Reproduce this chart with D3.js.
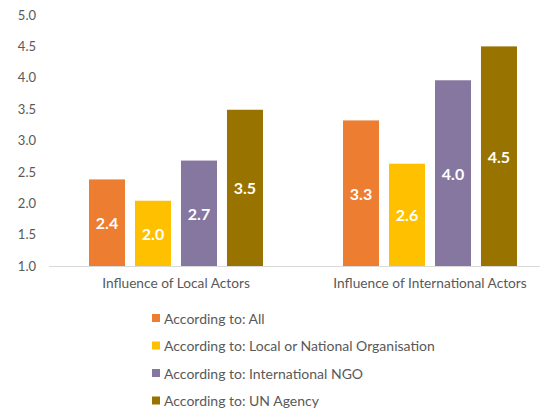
<!DOCTYPE html>
<html>
<head>
<meta charset="utf-8">
<script src="https://cdn.jsdelivr.net/npm/d3@7"></script>
<style>
  body { margin: 0; background: #fff; }
  text { font-family: Lato, "Open Sans", sans-serif; }
</style>
</head>
<body>
<svg width="540" height="409"></svg>
<script>
const svg = d3.select('svg');

// Data
const categories = ['Influence of Local Actors', 'Influence of International Actors'];
const seriesNames = [
  'According to: All',
  'According to: Local or National Organisation',
  'According to: International NGO',
  'According to: UN Agency'
];
const valuesAll   = [2.38, 3.32];
const valuesLocal = [2.04, 2.63];
const valuesINGO  = [2.68, 3.96];
const valuesUN    = [3.49, 4.50];
const yTicks = [1.0, 1.5, 2.0, 2.5, 3.0, 3.5, 4.0, 4.5, 5.0];

const colors = ['#ED7D31', '#FFC000', '#8677A0', '#997300'];
const seriesValues = [valuesAll, valuesLocal, valuesINGO, valuesUN];

const rows = categories.map((c, i) => ({
  category: c,
  values: seriesValues.map((v, s) => ({ series: s, value: v[i] }))
}));

// Layout
const plotTop = 15, plotBottom = 266;
const plotLeft = 49, plotRight = 557;

const xScale = d3.scaleBand()
  .domain(categories)
  .range([plotLeft, plotRight]);

const xInner = d3.scaleBand()
  .domain(d3.range(seriesNames.length))
  .range([0, xScale.bandwidth()])
  .paddingInner(0.217)
  .paddingOuter(0.87);

const yScale = d3.scaleLinear()
  .domain([1, 5])
  .range([plotBottom, plotTop]);

// Y axis labels (no line, no gridlines)
const yAxis = d3.axisLeft(yScale)
  .tickValues(yTicks)
  .tickFormat(d3.format('.1f'))
  .tickSize(0)
  .tickPadding(0);

const yAxisG = svg.append('g')
  .attr('transform', 'translate(36,0)')
  .call(yAxis);
yAxisG.select('.domain').remove();
yAxisG.selectAll('text')
  .attr('fill', '#595959')
  .style('font-size', '13px')
  .style('font-family', 'Lato, "Open Sans", sans-serif');

// Bars
const groups = svg.selectAll('g.cat').data(rows)
  .enter().append('g')
    .attr('class', 'cat')
    .attr('transform', d => `translate(${xScale(d.category)},0)`);

groups.selectAll('rect').data(d => d.values)
  .enter().append('rect')
    .attr('x', d => xInner(d.series))
    .attr('y', d => yScale(d.value))
    .attr('width', xInner.bandwidth())
    .attr('height', d => yScale(1) - yScale(d.value))
    .attr('fill', d => colors[d.series]);

groups.selectAll('text.val').data(d => d.values)
  .enter().append('text')
    .attr('class', 'val')
    .attr('x', d => xInner(d.series) + xInner.bandwidth() / 2)
    .attr('y', d => (yScale(d.value) + yScale(1)) / 2)
    .attr('text-anchor', 'middle')
    .attr('dominant-baseline', 'central')
    .attr('fill', '#fff')
    .style('font-size', '16px')
    .style('font-weight', 'bold')
    .text(d => d3.format('.1f')(d.value));

// X axis baseline and category labels
const xAxis = d3.axisBottom(xScale)
  .tickSize(0)
  .tickPadding(12);

const xAxisG = svg.append('g')
  .attr('transform', `translate(0,${plotBottom})`)
  .call(xAxis);
xAxisG.select('.domain')
  .attr('stroke', '#D9D9D9')
  .attr('stroke-width', 1)
  .attr('d', `M${plotLeft},0.5H${plotRight}`);
xAxisG.selectAll('text')
  .attr('fill', '#595959')
  .style('font-size', '13.7px')
  .style('font-family', 'Lato, "Open Sans", sans-serif');

// Legend
const legend = svg.append('g')
  .attr('transform', 'translate(152,318)');

const items = legend.selectAll('g').data(seriesNames)
  .enter().append('g')
    .attr('transform', (d, i) => `translate(0,${i * 27.5})`);

items.append('rect')
  .attr('x', 0)
  .attr('y', -4)
  .attr('width', 8)
  .attr('height', 8)
  .attr('fill', (d, i) => colors[i]);

items.append('text')
  .attr('x', 12)
  .attr('y', 0)
  .attr('dominant-baseline', 'central')
  .attr('fill', '#595959')
  .style('font-size', '14px')
  .text(d => d);
</script>
</body>
</html>
